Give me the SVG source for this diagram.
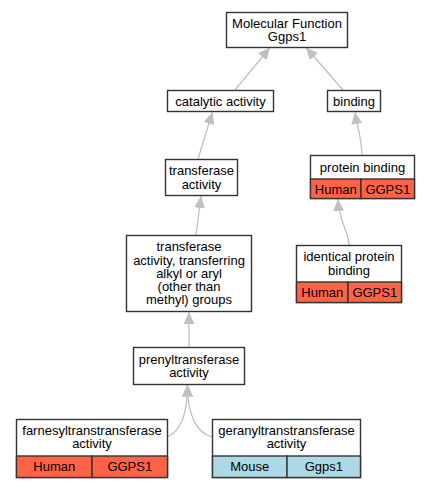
<svg xmlns="http://www.w3.org/2000/svg" width="431" height="488" viewBox="0 0 431 488">
<defs>
<style>
.box{fill:#fff;stroke:#333;stroke-width:1.4}
.red{fill:#ff6347;stroke:#333;stroke-width:1.4}
.blue{fill:#add8e6;stroke:#333;stroke-width:1.4}
text{font-family:"Liberation Sans",Arial,sans-serif;font-size:13px;fill:#000;text-anchor:middle}
.edge{fill:none;stroke:#c0c0c0;stroke-width:1.3}
</style>
<marker id="ah" markerUnits="userSpaceOnUse" markerWidth="13" markerHeight="12" refX="12" refY="5.5" orient="auto">
<path d="M0,0 L12,5.5 L0,11 z" fill="#c0c0c0"/>
</marker>
</defs>
<rect width="431" height="488" fill="#fff"/>
<g id="edges">
<path class="edge" d="M235,90 L270,47.5" marker-end="url(#ah)"/>
<path class="edge" d="M343,90 L306,47.5" marker-end="url(#ah)"/>
<path class="edge" d="M198,159 L212.5,112" marker-end="url(#ah)"/>
<path class="edge" d="M196,235 L201,196" marker-end="url(#ah)"/>
<path class="edge" d="M189,347 L189,312" marker-end="url(#ah)"/>
<path class="edge" d="M167,437 C180,432 187.5,415 187.5,384.5" marker-end="url(#ah)"/>
<path class="edge" d="M212,437 C195,432 187.5,415 187.5,384.5" marker-end="url(#ah)"/>
<path class="edge" d="M362,155 C362,140 357,125 355,112" marker-end="url(#ah)"/>
<path class="edge" d="M349,245 C349,232 339,222 338,199" marker-end="url(#ah)"/>
</g>
<g id="mf">
<rect class="box" x="226.5" y="12.5" width="121" height="35"/>
<text x="287" y="27.8">Molecular Function</text>
<text x="287" y="41.2">Ggps1</text>
</g>
<g id="catalytic">
<rect class="box" x="167.5" y="90.5" width="106" height="21"/>
<text x="220.5" y="105.5">catalytic activity</text>
</g>
<g id="binding">
<rect class="box" x="327.5" y="90.5" width="53" height="21"/>
<text x="354" y="105.5">binding</text>
</g>
<g id="transferase">
<rect class="box" x="165.5" y="159.5" width="72" height="36"/>
<text x="201.5" y="175.3">transferase</text>
<text x="201.5" y="188.6">activity</text>
</g>
<g id="transferring">
<rect class="box" x="126.5" y="235.5" width="125" height="76"/>
<text x="189" y="251.2">transferase</text>
<text x="189" y="264.5">activity, transferring</text>
<text x="189" y="277.8">alkyl or aryl</text>
<text x="189" y="291.1">(other than</text>
<text x="189" y="304.4">methyl) groups</text>
</g>
<g id="prenyl">
<rect class="box" x="133.5" y="347.5" width="111" height="37"/>
<text x="189" y="363.8">prenyltransferase</text>
<text x="189" y="377.1">activity</text>
</g>
<g id="protein-binding">
<rect class="box" x="310.5" y="155.5" width="104" height="43"/>
<rect class="red" x="310.5" y="179" width="50.5" height="19.5"/>
<rect class="red" x="361" y="179" width="53.5" height="19.5"/>
<text x="362.5" y="171.5">protein binding</text>
<text x="335.8" y="193.5">Human</text>
<text x="387.8" y="193.5">GGPS1</text>
</g>
<g id="identical-protein-binding">
<rect class="box" x="296.5" y="245.5" width="105" height="57"/>
<rect class="red" x="296.5" y="282" width="51.5" height="20.5"/>
<rect class="red" x="348" y="282" width="53.5" height="20.5"/>
<text x="349" y="261.3">identical protein</text>
<text x="349" y="274.6">binding</text>
<text x="322.3" y="296.7">Human</text>
<text x="374.8" y="296.7">GGPS1</text>
</g>
<g id="farnesyl">
<rect class="box" x="16.5" y="419.5" width="151" height="58"/>
<rect class="red" x="16.5" y="456" width="75.5" height="21.5"/>
<rect class="red" x="92" y="456" width="75.5" height="21.5"/>
<text x="92" y="434.5">farnesyltranstransferase</text>
<text x="92" y="447.8">activity</text>
<text x="54.3" y="471">Human</text>
<text x="129.8" y="471">GGPS1</text>
</g>
<g id="geranyl">
<rect class="box" x="212.5" y="419.5" width="148" height="58"/>
<rect class="blue" x="212.5" y="456" width="74.5" height="21.5"/>
<rect class="blue" x="287" y="456" width="73.5" height="21.5"/>
<text x="286.5" y="434.5">geranyltranstransferase</text>
<text x="286.5" y="447.8">activity</text>
<text x="249.8" y="471">Mouse</text>
<text x="323.8" y="471">Ggps1</text>
</g>
</svg>
